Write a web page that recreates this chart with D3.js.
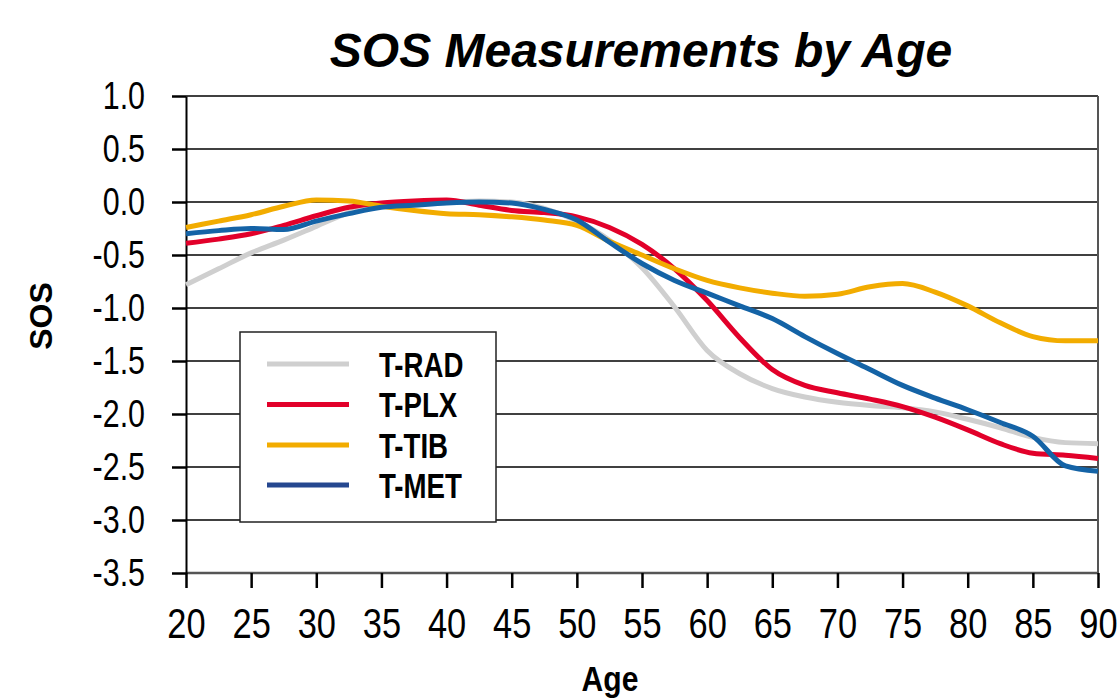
<!DOCTYPE html>
<html>
<head>
<meta charset="utf-8">
<script src="https://cdn.jsdelivr.net/npm/d3@7/dist/d3.min.js"></script>
<style>
  html, body { margin: 0; padding: 0; background: #fff; }
  svg { display: block; }
</style>
</head>
<body>
<svg id="chart" width="1120" height="699"></svg>
<script>
// ---- data ----
const ages = [20, 22.5, 25, 27.5, 30, 32.5, 35, 37.5, 40, 42.5, 45, 47.5, 50, 52.5, 55, 57.5, 60, 62.5, 65, 67.5, 70, 72.5, 75, 77.5, 80, 82.5, 85, 87.5, 90];
const seriesNames = ["T-RAD", "T-PLX", "T-TIB", "T-MET"];
const tRAD = [-0.78, -0.63, -0.48, -0.36, -0.23, -0.10, -0.02, 0.00, 0.00, 0.01, 0.00, -0.06, -0.18, -0.36, -0.62, -0.99, -1.40, -1.62, -1.76, -1.84, -1.89, -1.92, -1.94, -1.98, -2.05, -2.13, -2.22, -2.27, -2.28];
const tPLX = [-0.39, -0.35, -0.30, -0.22, -0.13, -0.05, -0.01, 0.01, 0.02, -0.03, -0.08, -0.10, -0.14, -0.24, -0.40, -0.63, -0.93, -1.28, -1.58, -1.73, -1.80, -1.86, -1.93, -2.03, -2.15, -2.28, -2.37, -2.39, -2.42];
const tTIB = [-0.24, -0.18, -0.12, -0.04, 0.02, 0.01, -0.04, -0.08, -0.11, -0.12, -0.14, -0.17, -0.22, -0.37, -0.50, -0.63, -0.74, -0.81, -0.86, -0.89, -0.87, -0.80, -0.77, -0.85, -0.98, -1.14, -1.27, -1.31, -1.31];
const tMET = [-0.30, -0.27, -0.25, -0.26, -0.18, -0.11, -0.05, -0.03, -0.01, 0.00, -0.01, -0.07, -0.17, -0.38, -0.58, -0.74, -0.86, -0.98, -1.10, -1.27, -1.43, -1.58, -1.73, -1.85, -1.96, -2.08, -2.21, -2.49, -2.54];
const xTicks = [20, 25, 30, 35, 40, 45, 50, 55, 60, 65, 70, 75, 80, 85, 90];
const yTicks = [1.0, 0.5, 0.0, -0.5, -1.0, -1.5, -2.0, -2.5, -3.0, -3.5];
const lineColors = ["#cfcfcf", "#e2002a", "#f2ac00", "#1463a6"];
const legendColors = ["#cfcfcf", "#e2002a", "#f2ac00", "#25478f"];

const seriesValues = [tRAD, tPLX, tTIB, tMET];

// ---- layout ----
const svg = d3.select("#chart");
const plotLeft = 186, plotRight = 1098, plotTop = 96, plotBottom = 573;
const x = d3.scaleLinear().domain([20, 90]).range([plotLeft, plotRight]);
const y = d3.scaleLinear().domain([-3.5, 1.0]).range([plotBottom, plotTop]);

const sans = "'Liberation Sans', Arial, sans-serif";

// horizontally condense a text selection (narrow font look)
function squeeze(sel, f) {
  sel.each(function() {
    const t = d3.select(this);
    const x0 = +(t.attr("x") || 0);
    t.attr("x", x0 / f).attr("transform", `scale(${f},1)`);
  });
}

// title
svg.append("text")
  .attr("x", 641).attr("y", 67)
  .attr("text-anchor", "middle")
  .style("font-family", sans)
  .style("font-weight", "bold").style("font-style", "italic")
  .style("font-size", "48px")
  .text("SOS Measurements by Age");

// gridlines
svg.append("g").selectAll("line")
  .data(yTicks.filter(d => d > -3.5))
  .join("line")
  .attr("x1", plotLeft).attr("x2", plotRight)
  .attr("y1", d => y(d)).attr("y2", d => y(d))
  .attr("stroke", "#000").attr("stroke-width", 1.5);

// frame: right and bottom
svg.append("line").attr("x1", plotRight).attr("x2", plotRight).attr("y1", plotTop).attr("y2", plotBottom)
  .attr("stroke", "#555").attr("stroke-width", 2);
svg.append("line").attr("x1", plotLeft).attr("x2", plotRight).attr("y1", plotBottom).attr("y2", plotBottom)
  .attr("stroke", "#555").attr("stroke-width", 2.5);

// y axis
const yAxis = d3.axisLeft(y).tickValues(yTicks).tickFormat(d3.format(".1f")).tickSizeInner(14).tickSizeOuter(0).tickPadding(27);
const gy = svg.append("g").attr("transform", `translate(${plotLeft},0)`).call(yAxis);
gy.select(".domain").attr("stroke", "#000").attr("stroke-width", 2);
gy.selectAll(".tick line").attr("stroke", "#000").attr("stroke-width", 2.5);
gy.selectAll(".tick text")
  .style("font-family", sans).style("font-size", "38px").attr("fill", "#000")
  .text(d => d3.format(".1f")(d).replace("−", "-"));
squeeze(gy.selectAll(".tick text"), 0.8);

// x axis
const xAxis = d3.axisBottom(x).tickValues(xTicks).tickFormat(d3.format("d")).tickSizeInner(15).tickSizeOuter(0).tickPadding(20);
const gx = svg.append("g").attr("transform", `translate(0,${plotBottom})`).call(xAxis);
gx.select(".domain").remove();
gx.selectAll(".tick line").attr("stroke", "#000").attr("stroke-width", 2.5);
gx.selectAll(".tick text")
  .style("font-family", sans).style("font-size", "42px").attr("fill", "#000");
squeeze(gx.selectAll(".tick text"), 0.82);

// axis titles
const ageLabel = svg.append("text")
  .attr("x", 610).attr("y", 691)
  .attr("text-anchor", "middle")
  .style("font-family", sans).style("font-weight", "bold").style("font-size", "35px")
  .text("Age");
squeeze(ageLabel, 0.86);
svg.append("text")
  .attr("transform", "translate(52,316) rotate(-90)")
  .attr("text-anchor", "middle")
  .style("font-family", sans).style("font-weight", "bold").style("font-size", "32px")
  .text("SOS");

// lines
const line = d3.line()
  .x((d, i) => x(ages[i]))
  .y(d => y(d))
  .curve(d3.curveMonotoneX);

svg.append("g").selectAll("path")
  .data(seriesValues)
  .join("path")
  .attr("d", d => line(d))
  .attr("fill", "none")
  .attr("stroke", (d, i) => lineColors[i])
  .attr("stroke-width", 5)
  .attr("stroke-linejoin", "round");

// legend
const lg = svg.append("g");
lg.append("rect")
  .attr("x", 240).attr("y", 332).attr("width", 256).attr("height", 190)
  .attr("fill", "#fff").attr("stroke", "#222").attr("stroke-width", 1.5);
const legendY = [364, 404.5, 445, 485];
seriesNames.forEach((name, i) => {
  lg.append("line")
    .attr("x1", 267).attr("x2", 349)
    .attr("y1", legendY[i]).attr("y2", legendY[i])
    .attr("stroke", legendColors[i]).attr("stroke-width", 5);
  const t = lg.append("text")
    .attr("x", 379).attr("y", legendY[i]).attr("dy", "0.36em")
    .style("font-family", sans).style("font-weight", "bold").style("font-size", "35px")
    .text(name);
  squeeze(t, 0.79);
});
</script>
</body>
</html>
